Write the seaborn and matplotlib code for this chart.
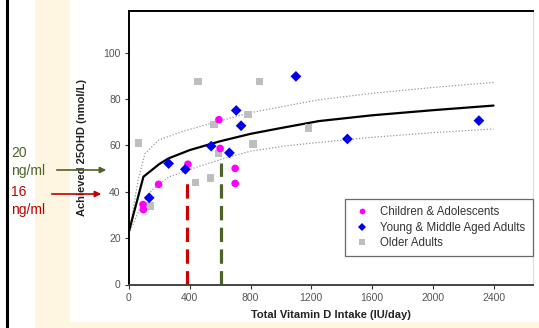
import pandas as pd
import matplotlib.pyplot as plt
import matplotlib.patches as mpatches
import matplotlib.lines as mlines
import seaborn as sns

# groups of studies
children_x = [92, 95, 195, 388, 600, 592, 699, 699]
children_y = [34.5, 32.3, 43.2, 51.9, 58.7, 71.1, 50.1, 43.6]

young_x = [133, 261, 371, 541, 661, 706, 738, 1099, 1438, 2304]
young_y = [37.4, 52.2, 49.7, 59.7, 56.8, 75.1, 68.5, 89.8, 62.8, 70.7]

older_x = [62, 140, 437, 536, 590, 559, 456, 784, 815, 859, 1182]
older_y = [61.0, 33.8, 44.0, 46.0, 56.5, 69.0, 87.6, 73.3, 60.6, 87.6, 67.5]

# fitted curve and its bounds
fit_x = [0, 95, 200, 260, 400, 600, 800, 1000, 1250, 1600, 2000, 2400]
fit_y = [23, 46.5, 52, 54.4, 58, 61.8, 65, 67.5, 70.5, 73, 75.2, 77.2]
upper_x = [0, 60, 105, 195, 350, 550, 790, 1030, 1250, 1600, 2000, 2400]
upper_y = [22, 45, 56.5, 62.3, 66, 69.7, 74, 77, 79.7, 82.5, 85, 87.2]
lower_x = [0, 80, 150, 262, 416, 636, 800, 1030, 1250, 1600, 2000, 2400]
lower_y = [22, 34, 40.7, 46.4, 50, 54.6, 57.5, 59.8, 61.3, 63.5, 65.5, 67.1]

ear_x, ear_top = 380, 45.3
rda_x, rda_top = 605, 52.5

x_ticks = [0, 400, 800, 1200, 1600, 2000, 2400]
y_ticks = [0, 20, 40, 60, 80, 100]

groups = ["Children & Adolescents", "Young & Middle Aged Adults", "Older Adults"]

df = pd.concat([
    pd.DataFrame({"x": older_x, "y": older_y, "group": groups[2]}),
    pd.DataFrame({"x": children_x, "y": children_y, "group": groups[0]}),
    pd.DataFrame({"x": young_x, "y": young_y, "group": groups[1]}),
])

sns.set_style("white")
plt.rcParams["font.family"] = ["Liberation Sans", "DejaVu Sans"]

fig = plt.figure(figsize=(5.39, 3.28), dpi=100)
fig.patch.set_facecolor("white")

# slide decoration
fig.patches.append(mpatches.Rectangle((35 / 539, 0), 35 / 539, 1, transform=fig.transFigure,
                                      facecolor="#FFF6E2", edgecolor="none", zorder=-5))
fig.patches.append(mpatches.Rectangle((35 / 539, 0), 1, 6 / 328, transform=fig.transFigure,
                                      facecolor="#FFF6E2", edgecolor="none", zorder=-5))
fig.lines.append(mlines.Line2D([6.5 / 539, 6.5 / 539], [0, 1], transform=fig.transFigure,
                               color="black", lw=2.2))

ax = fig.add_axes([129 / 539, 1 - 284.5 / 328, 404 / 539, 273.5 / 328])
ax.set_facecolor("white")

sns.lineplot(x=upper_x, y=upper_y, ax=ax, color="#999999", lw=0.9, linestyle=(0, (1, 1.5)),
             sort=False, legend=False, zorder=2)
sns.lineplot(x=lower_x, y=lower_y, ax=ax, color="#999999", lw=0.9, linestyle=(0, (1, 1.5)),
             sort=False, legend=False, zorder=2)
sns.lineplot(x=fit_x, y=fit_y, ax=ax, color="black", lw=1.6, sort=False, legend=False, zorder=3)

ax.plot([ear_x, ear_x], [0, ear_top], color="#CC0000", lw=2.3, linestyle=(0, (4.5, 2.3)), zorder=2)
ax.plot([rda_x, rda_x], [0, rda_top], color="#4F6228", lw=2.3, linestyle=(0, (4.5, 2.3)), zorder=2)

sns.scatterplot(data=df, x="x", y="y", hue="group", style="group", hue_order=groups,
                style_order=groups,
                palette={groups[0]: "#FF00FF", groups[1]: "#0000F0", groups[2]: "#BEBEBE"},
                markers={groups[0]: "o", groups[1]: "D", groups[2]: "s"},
                s=30, linewidth=0, ax=ax, zorder=4)

ax.set_xlim(0, 2660)
ax.set_ylim(0, 118)
ax.set_xticks(x_ticks)
ax.set_yticks(y_ticks)
ax.tick_params(direction="out", length=3, width=0.8, color="#333333",
               labelsize=7.5, labelcolor="#555555", pad=3, bottom=True, left=True)
for side in ["left", "top"]:
    ax.spines[side].set_color("black")
    ax.spines[side].set_linewidth(1.4)
ax.spines["bottom"].set_color("#444444")
ax.spines["bottom"].set_linewidth(1.4)
ax.spines["right"].set_color("#dddddd")
ax.spines["right"].set_linewidth(0.8)

ax.set_xlabel("Total Vitamin D Intake (IU/day)", fontsize=8, fontweight="bold",
              color="#222222", labelpad=5)
ax.set_ylabel("Achieved 25OHD (nmol/L)", fontsize=8, fontweight="bold",
              color="#222222", labelpad=12)

h, l = ax.get_legend_handles_labels()
leg = ax.legend(h, l, loc="upper right", bbox_to_anchor=(1.0, 0.3126), borderaxespad=0,
                fontsize=8.3, frameon=True, fancybox=False, edgecolor="#444444",
                handletextpad=0.8, labelspacing=0.28, borderpad=0.65, handlelength=1.6,
                markerscale=0.75)
leg.get_frame().set_linewidth(0.9)
for t in leg.get_texts():
    t.set_color("#333333")

# threshold annotations
fig.text(11 / 539, 1 - 153 / 328, "20", color="#4F6228", fontsize=10, va="center", ha="left")
fig.text(11 / 539, 1 - 171 / 328, "ng/ml", color="#4F6228", fontsize=10, va="center", ha="left")
fig.text(11 / 539, 1 - 192 / 328, "16", color="#C00000", fontsize=10, va="center", ha="left")
fig.text(11 / 539, 1 - 210 / 328, "ng/ml", color="#C00000", fontsize=10, va="center", ha="left")
fig.patches.append(mpatches.FancyArrowPatch((54 / 539, 1 - 170 / 328), (109 / 539, 1 - 170 / 328),
                                            transform=fig.transFigure, arrowstyle="-|>",
                                            mutation_scale=9, color="#4F6228", lw=1.2))
fig.patches.append(mpatches.FancyArrowPatch((49 / 539, 1 - 194 / 328), (104 / 539, 1 - 194 / 328),
                                            transform=fig.transFigure, arrowstyle="-|>",
                                            mutation_scale=9, color="#C00000", lw=1.2))

fig.savefig("out.png", dpi=100)
